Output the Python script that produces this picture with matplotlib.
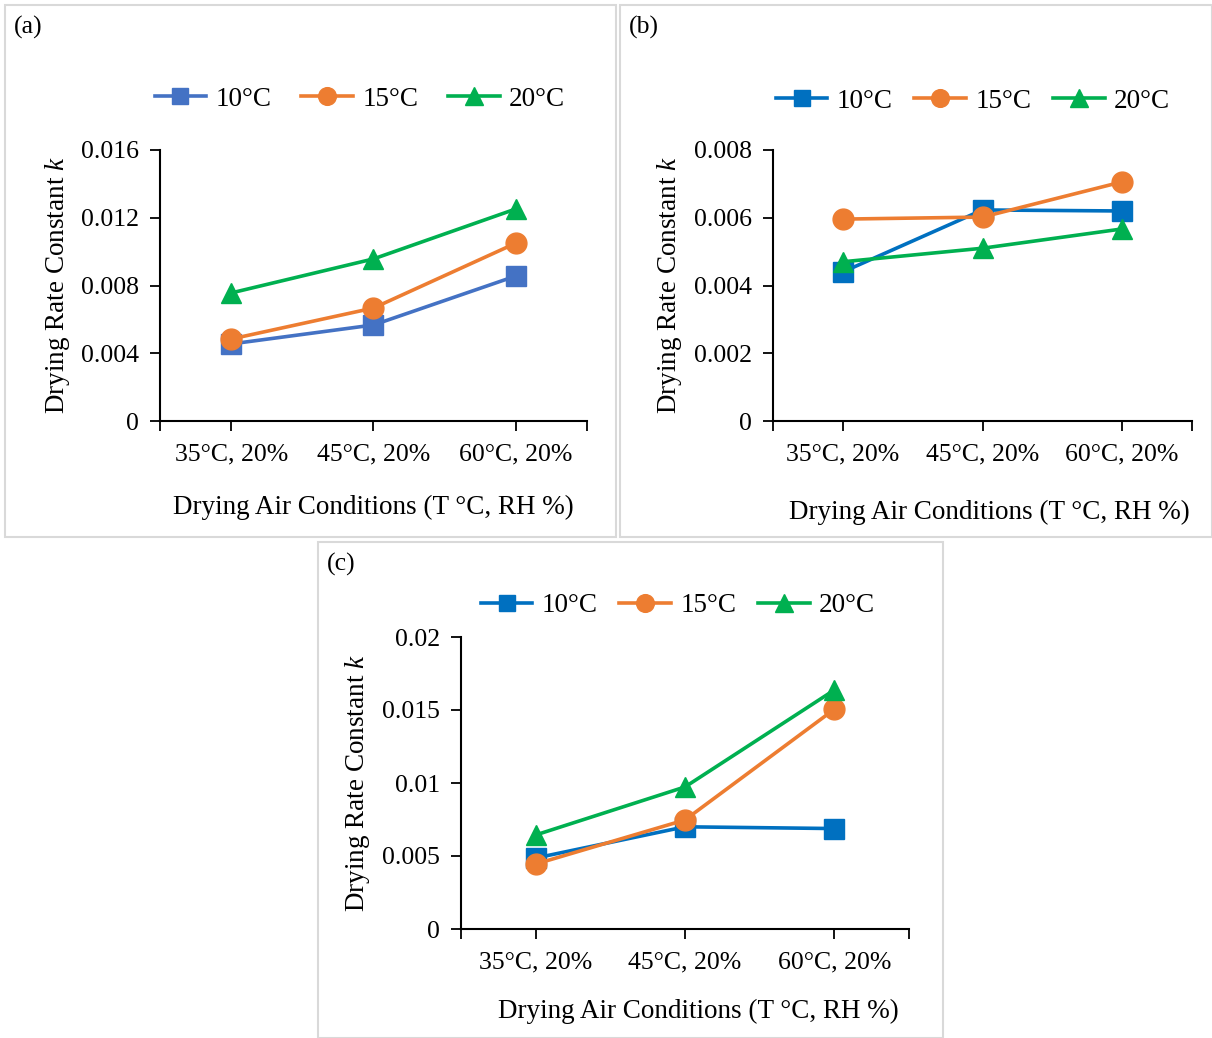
import matplotlib.pyplot as plt
from matplotlib.patches import Rectangle

plt.rcParams['font.family'] = ['Liberation Serif', 'DejaVu Serif']
plt.rcParams['mathtext.fontset'] = 'custom'
plt.rcParams['mathtext.rm'] = 'Liberation Serif'
plt.rcParams['mathtext.it'] = 'Liberation Serif:italic'

# data
conditions = ['35°C, 20%', '45°C, 20%', '60°C, 20%']
series = ['10°C', '15°C', '20°C']

k_a_10 = [0.00455, 0.00567, 0.00856]
k_a_15 = [0.00484, 0.00667, 0.0105]
k_a_20 = [0.00756, 0.00957, 0.01252]

k_b_10 = [0.0044, 0.00623, 0.0062]
k_b_15 = [0.00596, 0.00602, 0.00706]
k_b_20 = [0.0047, 0.0051, 0.00567]

k_c_10 = [0.00486, 0.0070, 0.00688]
k_c_15 = [0.00445, 0.00747, 0.01505]
k_c_20 = [0.00644, 0.00973, 0.01637]

W, H = 1212, 1038
fig = plt.figure(figsize=(W / 100, H / 100), dpi=100)
FS = 18.5   # tick labels
LFS = 19.5  # axis labels and legend


def box(x0, y0, x1, y1):
    # pixel box (top-left origin) -> figure fraction
    return [x0 / W, 1 - y1 / H, (x1 - x0) / W, (y1 - y0) / H]


def panel(frame, axbox, data, colors, yticks, yfmt, tag, leg_xy, colsp, xlab_xy, ylab_x):
    fx0, fy0, fx1, fy1 = frame
    fig.patches.append(Rectangle((fx0 / W, 1 - fy1 / H), (fx1 - fx0) / W, (fy1 - fy0) / H,
                                 transform=fig.transFigure, fill=False,
                                 edgecolor='#D9D9D9', linewidth=1.5))
    fig.text((fx0 + 9) / W, 1 - (fy0 + 22) / H, tag, fontsize=18.5, va='center')

    ax = fig.add_axes(box(*axbox))
    markers = ['s', 'o', '^']
    msizes = [14, 15, 15]
    x = range(len(conditions))
    for vals, name, c, m, ms in zip(data, series, colors, markers, msizes):
        ax.plot(x, vals, color=c, marker=m, markersize=ms, linewidth=2.6, label=name)

    ax.set_xlim(-0.5, 2.5)
    ax.set_ylim(yticks[0], yticks[-1])
    ax.set_yticks(yticks)
    ax.set_yticklabels([yfmt(v) for v in yticks])
    ax.set_xticks([-0.5, 0, 1, 2, 2.5])
    ax.set_xticklabels([''] + conditions + [''])
    ax.tick_params(labelsize=FS, length=7, width=1.3, direction='out', pad=8)
    ax.tick_params(axis='x', pad=9)
    for s in ['top', 'right']:
        ax.spines[s].set_visible(False)
    for s in ['left', 'bottom']:
        ax.spines[s].set_linewidth(1.5)

    pos = ax.get_position()
    fig.text(xlab_xy[0] / W, 1 - xlab_xy[1] / H, 'Drying Air Conditions (T °C, RH %)',
             fontsize=LFS, ha='center', va='center')
    fig.text(ylab_x / W, pos.y0 + pos.height / 2, 'Drying Rate Constant $k$',
             fontsize=LFS, rotation=90, ha='center', va='center')

    ax.legend(loc='center', bbox_to_anchor=(leg_xy[0] / W, 1 - leg_xy[1] / H),
              bbox_transform=fig.transFigure, ncol=3, frameon=False, fontsize=LFS,
              handlelength=1.9, handletextpad=0.35, columnspacing=colsp, markerscale=0.85)
    return ax


def fmt_a(v):
    return '0' if v == 0 else f'{v:.3f}'


def fmt_c(v):
    return '0' if v == 0 else f'{v:g}'


blue_a = '#4472C4'
blue = '#0070C0'
orange = '#ED7D31'
green = '#00B050'

panel((5, 5, 616, 537), (160, 150, 587, 421), [k_a_10, k_a_15, k_a_20],
      [blue_a, orange, green], [0, 0.004, 0.008, 0.012, 0.016], fmt_a, '(a)',
      (360, 99), 1.1, (373, 507), 57)
panel((620, 5, 1212, 537), (773, 150, 1192, 421), [k_b_10, k_b_15, k_b_20],
      [blue, orange, green], [0, 0.002, 0.004, 0.006, 0.008], fmt_a, '(b)',
      (973, 101), 0.8, (989, 512), 669)
panel((318, 542, 943, 1038), (461, 637, 909, 929), [k_c_10, k_c_15, k_c_20],
      [blue, orange, green], [0, 0.005, 0.01, 0.015, 0.02], fmt_c, '(c)',
      (678, 606), 0.8, (698, 1011), 357)

fig.savefig('out.png', dpi=100)
